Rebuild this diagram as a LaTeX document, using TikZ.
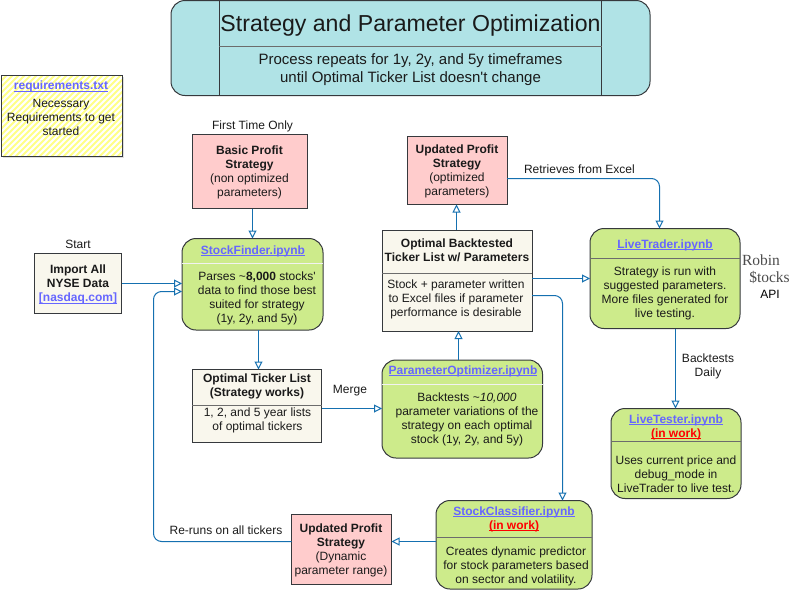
\documentclass[tikz,border=0pt]{standalone}
\usepackage{fontspec}
\setmainfont{Liberation Sans}[Ligatures=TeXOff]
\newfontfamily\logofont{Liberation Serif}
\usetikzlibrary{arrows.meta,calc}
\definecolor{tealf}{HTML}{B0E3E6}
\definecolor{pinkf}{HTML}{FFCCCC}
\definecolor{creamf}{HTML}{F9F7ED}
\definecolor{greenf}{HTML}{CDEB8B}
\definecolor{edgec}{HTML}{36393D}
\definecolor{linkc}{HTML}{6666FF}
\definecolor{wirec}{HTML}{1570B0}
\definecolor{hatchc}{HTML}{FFFF88}
\definecolor{txtc}{HTML}{1A1A1A}
\newcommand\myuln[1]{\leavevmode\sbox0{#1}\rlap{\raisebox{-1.7pt}{\rule{\wd0}{0.8pt}}}\usebox0}
\newcommand\lnk[1]{\textcolor{linkc}{\myuln{\textbf{#1}}}}
\newcommand\wrk[1]{\textcolor{red}{\myuln{\textbf{#1}}}}
\tikzset{
  x=1pt,y=-1pt,
  every node/.style={inner sep=0pt,outer sep=0pt,text=txtc},
  txt/.style={align=center,font=\fontsize{12}{14}\selectfont},
  boxb/.style={draw=edgec,line width=1pt,inner sep=0pt,align=center,font=\fontsize{12}{14}\selectfont},
  rectb/.style={boxb,rectangle},
  pinkb/.style={rectb,fill=pinkf},
  creamb/.style={rectb,fill=creamf},
  greenb/.style={boxb,fill=greenf,rounded corners=14pt},
  divg/.style={draw=gray!85!black,line width=0.9pt},
  divw/.style={draw=white!90!gray,line width=1pt},
  wire/.style={draw=wirec,line width=1pt,rounded corners=8pt,
    -{Triangle[open,length=8pt,width=8pt,line width=1pt]}},
}
\newcommand\boxat[5]{%
  \node[#1,minimum width=#4pt,minimum height=#5pt,anchor=north west] (#2) at #3 {};}
\begin{document}
\begin{tikzpicture}
\useasboundingbox (0,0) rectangle (793,590);

% title
\node[boxb,fill=tealf,rounded corners=14pt,minimum width=479pt,minimum height=95pt,anchor=north west] (title) at (171,0.5) {};
\draw[edgec,line width=0.9pt] (219,0.5) -- (219,95.5);
\draw[edgec,line width=0.9pt] (601.5,0.5) -- (601.5,95.5);
\draw[divg] (219,46.5) -- (601.5,46.5);
\node[font=\fontsize{23.1}{28}\selectfont] (titletext) at (410.5,25.5) {Strategy and Parameter Optimization};
\node[align=center,font=\fontsize{15}{18}\selectfont] (subtext) at (410.5,69.5) {Process repeats for 1y, 2y, and 5y timeframes\\until Optimal Ticker List doesn't change};

% requirements
\fill[gray!50,opacity=.5] (3,77) rectangle (124,158);
\node[rectangle,fill=white,minimum width=121.5pt,minimum height=81pt,anchor=north west] (req) at (1,75) {};
\begin{scope}
\clip (1,75) rectangle (122.5,156);
\foreach \k in {-90,-84,...,130}{\draw[hatchc,line width=2pt] (\k,160) -- ++(90,-90);}
\end{scope}
\draw[edgec,line width=0.9pt] (req.north west) rectangle (req.south east);
\node[txt] (reqtitle) at (61,86.5) {\lnk{requirements.txt}};
\node[txt] (reqbody) at (61,117) {Necessary\\Requirements to get\\started};

% boxes
\node[txt] (firsttime) at (252.5,126) {First Time Only};
\boxat{pinkb}{basic}{(192,134.5)}{115}{74}
\node[txt] (basictext) at (249.5,172) {\textbf{Basic Profit}\\\textbf{Strategy}\\(non optimized\\parameters)};

\boxat{pinkb}{upd}{(407,136.5)}{100}{68}
\node[txt] (updtext) at (457,171) {\textbf{Updated Profit}\\\textbf{Strategy}\\(optimized\\parameters)};

\node[txt] (start) at (78,244) {Start};
\boxat{creamb}{imp}{(34.5,253.5)}{87}{60}
\node[txt] (imptext) at (78,284.5) {\textbf{Import All}\\\textbf{NYSE Data}\\\lnk{[nasdaq.com]}};

\boxat{greenb}{finder}{(182,238.5)}{141}{91.5}
\draw[divw] (182,263) -- (323,263);
\node[txt] (findertitle) at (253,251) {\lnk{StockFinder.ipynb}};
\node[txt] (finderbody) at (257,298) {Parses \textasciitilde\textbf{8,000} stocks'\\data to find those best\\suited for strategy\\(1y, 2y, and 5y)};

\boxat{creamb}{otl}{(192,369.5)}{129.5}{73}
\draw[divg] (192,405) -- (321.5,405);
\node[txt] (otltitle) at (257,386) {\textbf{Optimal Ticker List}\\\textbf{(Strategy works)}};
\node[txt] (otlbody) at (257.5,420) {1, 2, and 5 year lists\\of optimal tickers};

\boxat{creamb}{obt}{(382,230)}{150}{101}
\draw[divg] (382,273) -- (532,273);
\node[txt] (obttitle) at (457,250) {\textbf{Optimal Backtested}\\\textbf{Ticker List w/ Parameters}};
\node[txt] (obtbody) at (456,299) {Stock + parameter written\\to Excel files if parameter\\performance is desirable};

\boxat{greenb}{po}{(382,360)}{160.5}{98}
\draw[divw] (382,384) -- (542.5,384);
\node[txt] (potitle) at (463,371) {\lnk{ParameterOptimizer.ipynb}};
\node[txt] (pobody) at (467,419) {Backtests \textasciitilde\textit{10,000}\\parameter variations of the\\strategy on each optimal\\stock (1y, 2y, and 5y)};

\boxat{greenb}{trader}{(590,228.5)}{150}{100}
\draw[divg] (590,258) -- (740,258);
\node[txt] (tradertitle) at (665,245) {\lnk{LiveTrader.ipynb}};
\node[txt] (traderbody) at (665,293) {Strategy is run with\\suggested parameters.\\More files generated for\\live testing.};

\boxat{greenb}{tester}{(611,408.5)}{130}{90}
\draw[divg] (611,441.5) -- (741,441.5);
\node[txt] (testertitle) at (676,427) {\lnk{LiveTester.ipynb}\\\wrk{(in work)}};
\node[txt] (testerbody) at (676,474) {Uses current price and\\debug\_mode in\\LiveTrader to live test.};

\boxat{greenb}{classifier}{(436,500.5)}{156}{88.5}
\draw[divg] (436,537) -- (592,537);
\node[txt] (classtitle) at (514,519) {\lnk{StockClassifier.ipynb}\\\wrk{(in work)}};
\node[txt] (classbody) at (516,566) {Creates dynamic predictor\\for stock parameters based\\on sector and volatility.};

\boxat{pinkb}{upl}{(291.5,514.5)}{100}{70}
\node[txt] (upltext) at (341,550) {\textbf{Updated Profit}\\\textbf{Strategy}\\(Dynamic\\parameter range)};

% logo
\node[font=\logofont\fontsize{15.5}{15}\selectfont,text=black!70] (robin) at (761,260) {Robin};
\node[font=\logofont\fontsize{15.5}{15}\selectfont,text=black!70] (stocks) at (769.5,277) {\$tocks};
\node[txt,text=black] (api) at (770,294) {API};

% labels
\node[txt,anchor=west] (retr) at (524,169) {Retrieves from Excel};
\node[txt] (merge) at (350,391) {Merge};
\node[txt] (bt) at (708,366) {Backtests\\Daily};
\node[txt] (rerun) at (226,530) {Re-runs on all tickers};

% connectors
\draw[wire] (basic.south -| 252.5,0) -- (finder.north -| 252.5,0);
\draw[wire] (imp.east |- 0,283.5) -- (finder.west |- 0,283.5);
\draw[wire] (upl.west |- 0,541.5) -- (153.5,541.5) -- (153.5,291.5) -- (finder.west |- 0,291.5);
\draw[wire] (finder.south -| 258.5,0) -- (otl.north -| 258.5,0);
\draw[wire] (otl.east |- 0,408.5) -- (po.west |- 0,408.5);
\draw[wire] (po.north -| 458.5,0) -- (obt.south -| 458.5,0);
\draw[wire] (obt.north -| 456.5,0) -- (upd.south -| 456.5,0);
\draw[wire] (upd.east |- 0,178.5) -- (659.5,178.5) -- (trader.north -| 659.5,0);
\draw[wire] (obt.east |- 0,278.5) -- (trader.west |- 0,278.5);
\draw[wire] (obt.east |- 0,295.5) -- (562.5,295.5) -- (classifier.north -| 562.5,0);
\draw[wire] (trader.south -| 675.5,0) -- (tester.north -| 675.5,0);
\draw[wire] (classifier.west |- 0,541.5) -- (upl.east |- 0,541.5);
\end{tikzpicture}
\end{document}
